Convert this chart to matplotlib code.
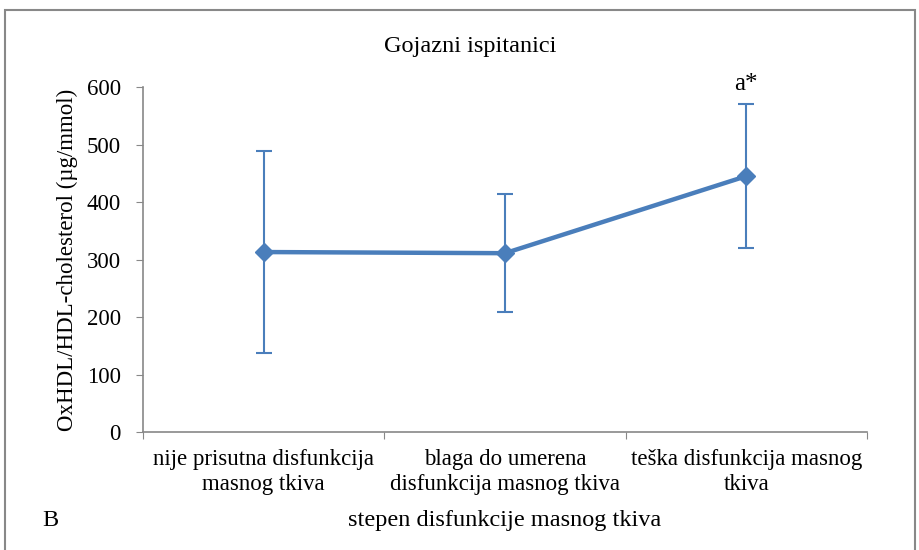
import matplotlib.pyplot as plt
from matplotlib.patches import Rectangle

categories = ['nije prisutna disfunkcija\nmasnog tkiva',
              'blaga do umerena\ndisfunkcija masnog tkiva',
              'teška disfunkcija masnog\ntkiva']
means = [313, 311, 445]
errors = [176, 103, 125]
y_ticks = [0, 100, 200, 300, 400, 500, 600]

plt.rcParams['font.family'] = ['Liberation Serif', 'DejaVu Serif']
blue = '#4A7EBB'

fig = plt.figure(figsize=(9.2, 5.5), dpi=100)
ax = fig.add_axes([0.1554, 0.2145, 0.787, 0.6273])

x = list(range(len(categories)))
ax.errorbar(x, means, yerr=errors, fmt='none', ecolor=blue, elinewidth=1.5,
            capsize=6, capthick=1.5, zorder=2)
ax.plot(x, means, color=blue, linewidth=3.2, marker='D', markersize=9,
        zorder=3)

ax.set_xlim(-0.5, 2.5)
ax.set_ylim(0, 600)
ax.set_yticks(y_ticks)
ax.tick_params(axis='y', labelsize=16.5, direction='out', length=5,
               color='#888888', pad=11)
ax.set_xticks([-0.5, 0.5, 1.5, 2.5])
ax.set_xticklabels([])
ax.tick_params(axis='x', which='major', direction='out', length=5,
               color='#888888')
ax.set_xticks(x, minor=True)
ax.set_xticklabels(categories, minor=True, fontsize=16.5, linespacing=1.25)
ax.tick_params(axis='x', which='minor', length=0, pad=12)

for s in ['top', 'right']:
    ax.spines[s].set_visible(False)
for s in ['left', 'bottom']:
    ax.spines[s].set_color('#888888')
    ax.spines[s].set_linewidth(1.2)

ax.set_ylabel('OxHDL/HDL-cholesterol (µg/mmol)', fontsize=16.5, labelpad=6)
ax.text(2, 570 + 16, 'a*', ha='center', va='bottom', fontsize=18)

fig.text(0.511, 0.915, 'Gojazni ispitanici', ha='center', va='center',
         fontsize=17.5)
fig.text(0.548, 0.053, 'stepen disfunkcije masnog tkiva', ha='center',
         va='center', fontsize=17.5)
fig.text(0.055, 0.053, 'B', ha='center', va='center', fontsize=17.5)

fig.patches.append(Rectangle((0.005, -0.05), 0.99, 1.032,
                             transform=fig.transFigure, fill=False,
                             edgecolor='#888888', linewidth=1.5))

fig.savefig('out.png', dpi=100)
